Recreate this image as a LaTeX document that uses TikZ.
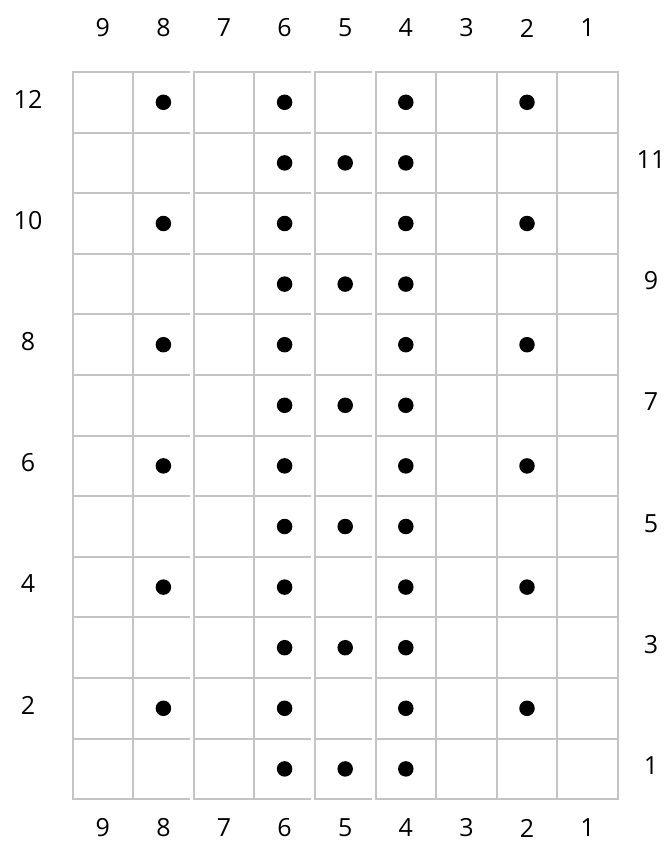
\documentclass[tikz,border=0pt]{standalone}
\usepackage{fontspec}
\setmainfont{Open Sans}
\usepackage{tikz}
\definecolor{gridgray}{HTML}{C4C4C4}

\begin{document}
\begin{tikzpicture}[x=1pt,y=-1pt,
  gridline/.style={draw=gridgray,line width=2pt},
  stitch/.style={circle,fill=black,inner sep=0pt,minimum size=15.5pt},
  numlabel/.style={font=\fontsize{25}{25}\selectfont,inner sep=0pt}]
\useasboundingbox (0,0) rectangle (669,843);

% grid, in blocks 9-8, 7-6, 5 and 4-1
\foreach \xa/\xb in {72.5/189.6,193.7/310.8,314.9/371.6,375.5/618.9}
  \foreach \r in {0,...,12}
    \draw[gridline] (\xa,{72+60.6*\r}) -- (\xb,{72+60.6*\r});
\foreach \k in {0,...,9}
  \draw[gridline] ({72.5+60.6*\k},71) -- ({72.5+60.6*\k},800.2);

% column numbers
\foreach \c in {1,...,9} {
  \node[numlabel] (top\c) at ({72.5+60.6*(9-\c)+30.3},28) {\c};
  \node[numlabel] (bot\c) at ({72.5+60.6*(9-\c)+30.3},828) {\c};
}
% row numbers
\foreach \r in {2,4,...,12}
  \node[numlabel] (row\r) at (28,{72+60.6*(12-\r)+27}) {\r};
\foreach \r in {1,3,...,11}
  \node[numlabel] (row\r) at (651,{72+60.6*(12-\r)+27}) {\r};

% stitches
\foreach \r in {2,4,...,12}
  \foreach \c in {8,6,4,2}
    \node[stitch] (s\r-\c) at ({72.5+60.6*(9-\c)+30.3},{72+60.6*(12-\r)+30.3}) {};
\foreach \r in {1,3,...,11}
  \foreach \c in {6,5,4}
    \node[stitch] (s\r-\c) at ({72.5+60.6*(9-\c)+30.3},{72+60.6*(12-\r)+30.3}) {};
\end{tikzpicture}
\end{document}
